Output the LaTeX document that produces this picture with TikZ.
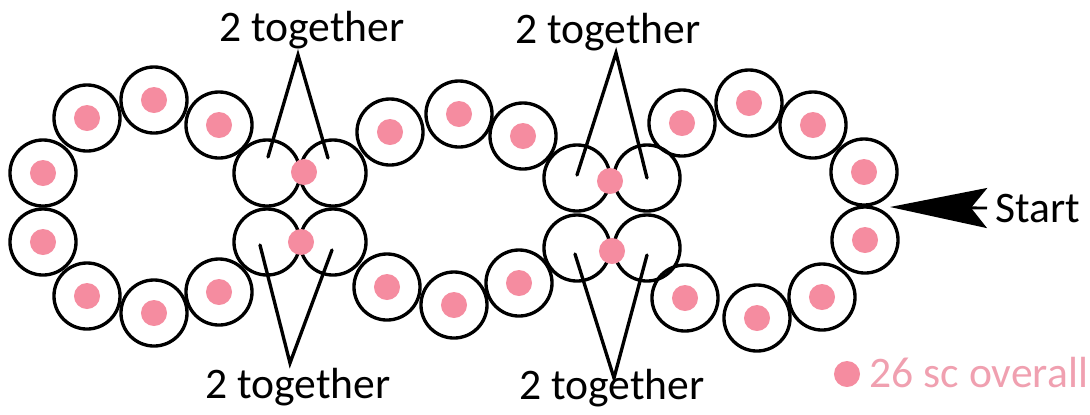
\documentclass[tikz,border=0pt]{standalone}
\usepackage{fontspec}
\setmainfont{Carlito}
\usetikzlibrary{arrows.meta}
\definecolor{scpink}{RGB}{245,140,160}
\definecolor{legendpink}{RGB}{240,160,176}

\begin{document}
\begin{tikzpicture}[x=0.01cm, y=-0.01cm,
    ring/.style={circle, draw, line width=0.95pt, minimum size=0.66cm, inner sep=0pt},
    sc/.style={circle, fill=scpink, minimum size=0.26cm, inner sep=0pt},
    lab/.style={font=\fontsize{12.4}{14}\selectfont, inner sep=0pt},
    leg/.style={line width=0.95pt, line cap=round}]
  \useasboundingbox (0,0) rectangle (1090,414);
  % rings holding one sc each
  \foreach \name/\px/\py in {a1/43/173, a2/43/242, a3/87/118, a4/154/100, a5/219/125, a6/87/296, a7/154/313, a8/219/292,
      b1/390/132, b2/459/114, b3/523/136, b4/387/287, b5/454/305, b6/519/283,
      c1/682/123, c2/749/103, c3/813/125, c4/864/172, c5/865/240, c6/685/298, c7/757/318, c8/822/297}{
    \node[ring] (\name) at (\px,\py) {};
    \node[sc] (\name-sc) at (\name) {};
  }
  % empty rings where two are worked together
  \foreach \name/\px/\py in {j1a/267/173, j1b/333/173, j1c/267/242, j1d/333/242,
      j2a/577/178, j2b/647/178, j2c/577/248, j2d/647/248}{
    \node[ring] (\name) at (\px,\py) {};
  }
  \node[sc] (j1top) at (304,172) {};
  \node[sc] (j1bot) at (301,242) {};
  \node[sc] (j2top) at (610,181) {};
  \node[sc] (j2bot) at (612,251) {};

  % labels
  \node[lab] (top1) at (312,30) {2 together};
  \node[lab] (top2) at (608,32) {2 together};
  \node[lab] (bot1) at (298,387) {2 together};
  \node[lab] (bot2) at (612,388) {2 together};

  \coordinate (ap1) at (298,55);
  \coordinate (ap2) at (616,53);
  \coordinate (ap3) at (290,363);
  \coordinate (ap4) at (614,378);
  \coordinate (v1l) at (268,157);
  \coordinate (v1r) at (328,158);
  \coordinate (v2l) at (577,175);
  \coordinate (v2r) at (647,178);
  \coordinate (v3l) at (260,245);
  \coordinate (v3r) at (332,250);
  \coordinate (v4l) at (575,254);
  \coordinate (v4r) at (647,255);
  \draw[leg] (v1l) -- (ap1) -- (v1r);
  \draw[leg] (v2l) -- (ap2) -- (v2r);
  \draw[leg] (v3l) -- (ap3) -- (v3r);
  \draw[leg] (v4l) -- (ap4) -- (v4r);

  % start marker
  \node[lab, anchor=west, inner xsep=0.08cm] (start) at (987,208) {Start};
  \coordinate (tip) at (890,207);
  \draw[line width=0.8pt, -{Stealth[length=0.97cm, width=0.40cm, inset=0.16cm]}] (start.west) -- (tip);

  % legend
  \node[sc] (legdot) at (847,374) {};
  \node[lab, text=legendpink, anchor=west] (legend) at (869,373) {26 sc overall};
\end{tikzpicture}
\end{document}
